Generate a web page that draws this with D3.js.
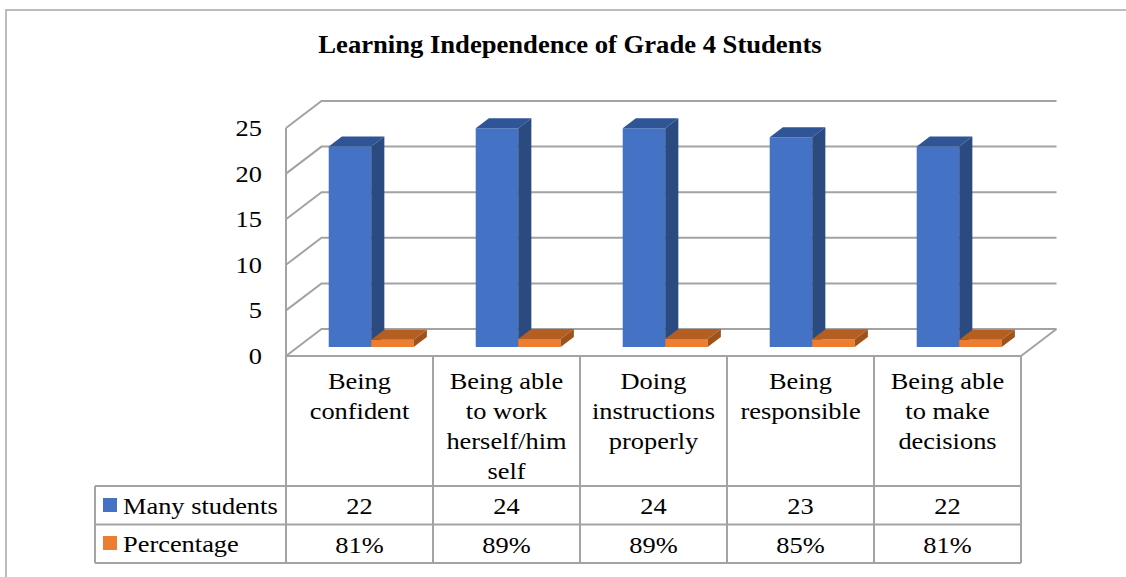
<!DOCTYPE html>
<html>
<head>
<meta charset="utf-8">
<script src="https://cdn.jsdelivr.net/npm/d3@7"></script>
<style>
  html, body { margin: 0; padding: 0; background: #fff; }
  svg { display: block; }
</style>
</head>
<body>
<svg id="chart" width="1126" height="577"></svg>
<script>
// ---------- data ----------
const title = "Learning Independence of Grade 4 Students";
const categories = [
  ["Being", "confident"],
  ["Being able", "to work", "herself/him", "self"],
  ["Doing", "instructions", "properly"],
  ["Being", "responsible"],
  ["Being able", "to make", "decisions"]
];
const seriesNames = ["Many students", "Percentage"];
const manyStudents = [22, 24, 24, 23, 22];
const percentage = [0.81, 0.89, 0.89, 0.85, 0.81];
const percentageLabels = ["81%", "89%", "89%", "85%", "81%"];
const yTicks = [0, 5, 10, 15, 20, 25];

// ---------- layout ----------
const svg = d3.select("#chart");
const SX = 1.1;           // horizontal stretch of the text in the reference
const FS = 24;
const FONT = "'Liberation Serif', 'Times New Roman', serif";
const grid = "#a3a3a3";

const plotLeft = 286, plotRight = 1021;
const floorFront = 356;
const DX = 35.5, DY = 27;  // depth offset of the back wall

const x = d3.scaleBand().domain(d3.range(categories.length)).range([plotLeft, plotRight]);
const xSub = d3.scaleBand().domain(seriesNames).range([31, 116]);
const yF = d3.scaleLinear().domain([0, 25]).range([floorFront, floorFront - 228]); // front plane

function P(xf, v, d) { return [xf + d * DX, yF(v) - d * DY]; }

function addText(g, px, py, str, opts = {}) {
  return g.append("text")
    .attr("transform", `translate(${px},${py}) scale(${SX},1)`)
    .attr("text-anchor", opts.anchor || "middle")
    .attr("fill", "#000")
    .style("font-family", FONT)
    .style("font-size", (opts.size || FS) + "px")
    .style("font-weight", opts.weight || "normal")
    .text(str);
}

// outer border
svg.append("rect").attr("x", 6).attr("y", 10).attr("width", 1200).attr("height", 700)
  .attr("fill", "none").attr("stroke", "#a6a6a6").attr("stroke-width", 1.5);

// title
addText(svg, 570, 53, title, { weight: "bold", size: 24.2 });

// ---------- walls / gridlines ----------
const gw = svg.append("g").attr("stroke", grid).attr("stroke-width", 2).attr("fill", "none");
yTicks.forEach(v => {
  const a = P(plotLeft, v, 0), b = P(plotLeft, v, 1), c = [plotRight + DX, yF(v) - DY];
  gw.append("path").attr("d", `M${a}L${b}L${c}`);
});
gw.append("line").attr("x1", plotLeft).attr("x2", plotLeft).attr("y1", yF(25)).attr("y2", yF(0));
gw.append("path").attr("d", `M${P(plotLeft,0,0)}L${P(plotRight,0,0)}L${P(plotRight,0,1)}`);

// axis labels
yTicks.forEach(v => addText(svg, 262, yF(v) + 8, String(v), { anchor: "end" }));

// ---------- bars ----------
const d0 = 0.33, d1 = 0.70;
const colors = {
  "Many students": { front: "#4472C4", top: "#2F5597", side: "#2A4A80" },
  "Percentage":    { front: "#ED7D31", top: "#B55E21", side: "#A0521B" }
};
const bars = svg.append("g");
categories.forEach((c, i) => {
  [["Many students", manyStudents[i]], ["Percentage", percentage[i]]].forEach(([s, v]) => {
    const x0 = x(i) + xSub(s), x1 = x0 + xSub.bandwidth();
    const col = colors[s];
    const fbl = P(x0, 0, d0), fbr = P(x1, 0, d0), ftl = P(x0, v, d0), ftr = P(x1, v, d0);
    const btl = P(x0, v, d1), btr = P(x1, v, d1), bbr = P(x1, 0, d1);
    const g = bars.append("g");
    g.append("path").attr("d", `M${fbl}L${fbr}L${ftr}L${ftl}Z`).attr("fill", col.front);
    g.append("path").attr("d", `M${ftl}L${ftr}L${btr}L${btl}Z`).attr("fill", col.top);
    g.append("path").attr("d", `M${fbr}L${bbr}L${btr}L${ftr}Z`).attr("fill", col.side);
  });
});

// ---------- data table ----------
const tb = svg.append("g").attr("stroke", grid).attr("stroke-width", 2).attr("fill", "none");
const tLeft = 95, rowY = [486, 524.5, 563];
x.domain().concat([categories.length]).forEach(i => {
  const xx = i < categories.length ? x(i) : plotRight;
  tb.append("line").attr("x1", xx).attr("x2", xx).attr("y1", floorFront).attr("y2", rowY[2]);
});
rowY.forEach(yy => tb.append("line").attr("x1", tLeft).attr("x2", plotRight).attr("y1", yy).attr("y2", yy));
tb.append("line").attr("x1", tLeft).attr("x2", tLeft).attr("y1", rowY[0]).attr("y2", rowY[2]);

// header labels
categories.forEach((lines, i) => {
  lines.forEach((ln, j) => addText(svg, x(i) + x.bandwidth() / 2, 389 + j * 30, ln));
});
// values
manyStudents.forEach((v, i) => addText(svg, x(i) + x.bandwidth() / 2, 514, String(v)));
percentageLabels.forEach((v, i) => addText(svg, x(i) + x.bandwidth() / 2, 553, v));

// legend keys
const keyY = [498, 536];
seriesNames.forEach((s, k) => {
  svg.append("rect").attr("x", 103).attr("y", keyY[k]).attr("width", 14).attr("height", 14)
    .attr("fill", colors[s].front);
  addText(svg, 123, keyY[k] + 16, s, { anchor: "start" });
});
</script>
</body>
</html>
